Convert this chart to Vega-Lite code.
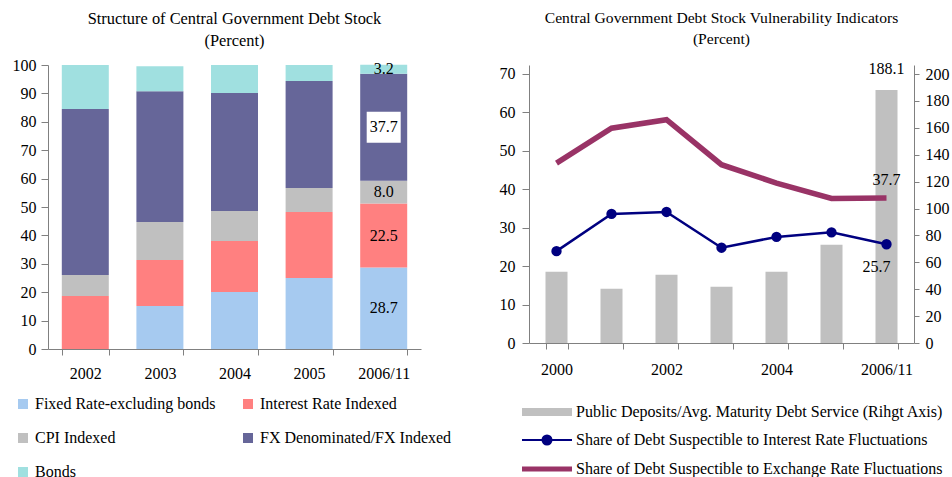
{
  "$schema": "https://vega.github.io/schema/vega-lite/v6.json",
  "padding": {"left": 12, "top": 10, "right": 2, "bottom": 0},
  "spacing": 47,
  "resolve": {
    "scale": {"color": "independent", "fill": "independent", "stroke": "independent"},
    "legend": {"color": "independent", "fill": "independent", "stroke": "independent"}
  },
  "config": {
    "font": "Liberation Serif",
    "view": {"stroke": null},
    "axis": {"labelFont": "Liberation Serif", "labelFontSize": 16, "labelColor": "#000", "domainColor": "#808080", "tickColor": "#808080", "grid": false, "labelOverlap": false},
    "title": {"font": "Liberation Serif", "fontWeight": "normal", "color": "#000", "fontSize": 16, "lineHeight": 22, "frame": "group", "anchor": "middle"},
    "legend": {"labelFont": "Liberation Serif", "labelFontSize": 16, "labelColor": "#000", "padding": 0, "labelLimit": 600},
    "text": {"font": "Liberation Serif", "fontSize": 16, "color": "#000"}
  },
  "datasets": {
    "dleft": [
      {"year": "2002", "series": "Interest Rate Indexed", "value": 18.7},
      {"year": "2002", "series": "CPI Indexed", "value": 7.4},
      {"year": "2002", "series": "FX Denominated/FX Indexed", "value": 58.4},
      {"year": "2002", "series": "Bonds", "value": 15.5},
      {"year": "2003", "series": "Fixed Rate-excluding bonds", "value": 15.1},
      {"year": "2003", "series": "Interest Rate Indexed", "value": 16.2},
      {"year": "2003", "series": "CPI Indexed", "value": 13.4},
      {"year": "2003", "series": "FX Denominated/FX Indexed", "value": 46.1},
      {"year": "2003", "series": "Bonds", "value": 8.8},
      {"year": "2004", "series": "Fixed Rate-excluding bonds", "value": 20.1},
      {"year": "2004", "series": "Interest Rate Indexed", "value": 17.9},
      {"year": "2004", "series": "CPI Indexed", "value": 10.6},
      {"year": "2004", "series": "FX Denominated/FX Indexed", "value": 41.5},
      {"year": "2004", "series": "Bonds", "value": 9.9},
      {"year": "2005", "series": "Fixed Rate-excluding bonds", "value": 25.0},
      {"year": "2005", "series": "Interest Rate Indexed", "value": 23.2},
      {"year": "2005", "series": "CPI Indexed", "value": 8.5},
      {"year": "2005", "series": "FX Denominated/FX Indexed", "value": 37.7},
      {"year": "2005", "series": "Bonds", "value": 5.6},
      {"year": "2006/11", "series": "Fixed Rate-excluding bonds", "value": 28.7},
      {"year": "2006/11", "series": "Interest Rate Indexed", "value": 22.5},
      {"year": "2006/11", "series": "CPI Indexed", "value": 8.0},
      {"year": "2006/11", "series": "FX Denominated/FX Indexed", "value": 37.7},
      {"year": "2006/11", "series": "Bonds", "value": 3.2}
    ],
    "drb": [
      {"year": "2000", "series": "Public Deposits/Avg. Maturity Debt Service (Rihgt Axis)", "dep": 53.0},
      {"year": "2001", "series": "Public Deposits/Avg. Maturity Debt Service (Rihgt Axis)", "dep": 40.4},
      {"year": "2002", "series": "Public Deposits/Avg. Maturity Debt Service (Rihgt Axis)", "dep": 50.8},
      {"year": "2003", "series": "Public Deposits/Avg. Maturity Debt Service (Rihgt Axis)", "dep": 41.9},
      {"year": "2004", "series": "Public Deposits/Avg. Maturity Debt Service (Rihgt Axis)", "dep": 53.0},
      {"year": "2005", "series": "Public Deposits/Avg. Maturity Debt Service (Rihgt Axis)", "dep": 73.1},
      {"year": "2006/11", "series": "Public Deposits/Avg. Maturity Debt Service (Rihgt Axis)", "dep": 188.1}
    ],
    "drl": [
      {"year": "2000", "series": "Share of Debt Suspectible to Interest Rate Fluctuations", "value": 23.9},
      {"year": "2001", "series": "Share of Debt Suspectible to Interest Rate Fluctuations", "value": 33.6},
      {"year": "2002", "series": "Share of Debt Suspectible to Interest Rate Fluctuations", "value": 34.1},
      {"year": "2003", "series": "Share of Debt Suspectible to Interest Rate Fluctuations", "value": 24.8},
      {"year": "2004", "series": "Share of Debt Suspectible to Interest Rate Fluctuations", "value": 27.6},
      {"year": "2005", "series": "Share of Debt Suspectible to Interest Rate Fluctuations", "value": 28.8},
      {"year": "2006/11", "series": "Share of Debt Suspectible to Interest Rate Fluctuations", "value": 25.7},
      {"year": "2000", "series": "Share of Debt Suspectible to Exchange Rate Fluctuations", "value": 46.8},
      {"year": "2001", "series": "Share of Debt Suspectible to Exchange Rate Fluctuations", "value": 55.9},
      {"year": "2002", "series": "Share of Debt Suspectible to Exchange Rate Fluctuations", "value": 58.1},
      {"year": "2003", "series": "Share of Debt Suspectible to Exchange Rate Fluctuations", "value": 46.4},
      {"year": "2004", "series": "Share of Debt Suspectible to Exchange Rate Fluctuations", "value": 41.6},
      {"year": "2005", "series": "Share of Debt Suspectible to Exchange Rate Fluctuations", "value": 37.6},
      {"year": "2006/11", "series": "Share of Debt Suspectible to Exchange Rate Fluctuations", "value": 37.7}
    ]
  },
  "hconcat": [
    {
      "title": {"text": ["Structure of Central Government Debt Stock", "(Percent)"], "fontSize": 16.4, "offset": 8},
      "width": 373,
      "height": 284,
      "data": {"name": "dleft"},
      "transform": [
        {"calculate": "indexof(['Fixed Rate-excluding bonds','Interest Rate Indexed','CPI Indexed','FX Denominated/FX Indexed','Bonds'], datum.series)", "as": "k"},
        {"stack": "value", "groupby": ["year"], "sort": [{"field": "k", "order": "ascending"}], "as": ["y0", "y1"]},
        {"calculate": "(datum.y0 + datum.y1) / 2", "as": "ymid"}
      ],
      "encoding": {
        "x": {"field": "year", "type": "nominal", "title": null,
              "scale": {"paddingInner": 0.37, "paddingOuter": 0.185},
              "axis": {"labelAngle": 0, "tickBand": "extent", "tickSize": 6, "labelPadding": 10}}
      },
      "layer": [
        {
          "mark": {"type": "bar"},
          "encoding": {
            "y": {"field": "y0", "type": "quantitative", "title": null, "scale": {"domain": [0, 100]},
                  "axis": {"values": [0, 10, 20, 30, 40, 50, 60, 70, 80, 90, 100], "tickSize": 7, "labelPadding": 5, "labelOverlap": false}},
            "y2": {"field": "y1"},
            "color": {"field": "series", "type": "nominal",
                      "scale": {"domain": ["Fixed Rate-excluding bonds", "CPI Indexed", "Bonds", "Interest Rate Indexed", "FX Denominated/FX Indexed"],
                                "range": ["#a6caf0", "#c0c0c0", "#a0e0e0", "#ff8080", "#666699"]},
                      "legend": {"orient": "none", "legendX": -33, "legendY": 331, "columns": 2, "title": null,
                                 "symbolType": "square", "symbolSize": 100, "symbolStrokeWidth": 0,
                                 "rowPadding": 18, "columnPadding": 24, "labelOffset": 4}}
          }
        },
        {
          "transform": [{"filter": "datum.year == '2006/11' && datum.series == 'FX Denominated/FX Indexed'"}],
          "mark": {"type": "point", "shape": "M-1,-0.91L1,-0.91L1,0.91L-1,0.91Z", "filled": true, "color": "#ffffff", "opacity": 1, "size": 1156, "strokeWidth": 0},
          "encoding": {"y": {"field": "ymid", "type": "quantitative", "title": null,
                             "axis": {"values": [0, 10, 20, 30, 40, 50, 60, 70, 80, 90, 100], "tickSize": 7, "labelPadding": 5, "labelOverlap": false}}}
        },
        {
          "transform": [{"filter": "datum.year == '2006/11'"}],
          "mark": {"type": "text", "fontSize": 16},
          "encoding": {
            "y": {"field": "ymid", "type": "quantitative", "title": null,
                  "axis": {"values": [0, 10, 20, 30, 40, 50, 60, 70, 80, 90, 100], "tickSize": 7, "labelPadding": 5, "labelOverlap": false}},
            "text": {"field": "value", "type": "quantitative", "format": ".1f"}
          }
        }
      ]
    },
    {
      "title": {"text": ["Central Government Debt Stock Vulnerability Indicators", "(Percent)"], "fontSize": 15.6, "lineHeight": 21, "offset": 13},
      "width": 385,
      "height": 278,
      "layer": [
        {
          "data": {"name": "drb"},
          "encoding": {
            "x": {"field": "year", "type": "nominal", "title": null,
                  "scale": {"paddingInner": 0.6, "paddingOuter": 0.3},
                  "axis": {"labelAngle": 0, "tickBand": "extent", "tickSize": 6, "labelPadding": 12,
                           "labelExpr": "indexof(['2001','2003','2005'], datum.label) >= 0 ? '' : datum.label"}},
            "y": {"field": "dep", "type": "quantitative", "title": null, "scale": {"domain": [0, 206.7], "nice": false},
                  "axis": {"orient": "right", "values": [0, 20, 40, 60, 80, 100, 120, 140, 160, 180, 200], "tickSize": 5, "labelPadding": 6, "labelOverlap": false}}
          },
          "layer": [
            {
              "mark": {"type": "bar"},
              "encoding": {
                "fill": {"field": "series", "type": "nominal",
                         "scale": {"domain": ["Public Deposits/Avg. Maturity Debt Service (Rihgt Axis)"], "range": ["#c0c0c0"]},
                         "legend": {"orient": "none", "legendX": 10, "legendY": 339, "title": null,
                                    "symbolType": "M-5,-0.8L5,-0.8L5,0.8L-5,0.8Z", "symbolSize": 100, "symbolStrokeWidth": 0,
                                    "labelOffset": 21}}
              }
            },
            {
              "transform": [{"filter": "datum.year == '2006/11'"}],
              "mark": {"type": "text", "dy": -21},
              "encoding": {"text": {"field": "dep", "type": "quantitative", "format": ".1f"}}
            }
          ]
        },
        {
          "data": {"name": "drl"},
          "encoding": {
            "x": {"field": "year", "type": "nominal", "title": null},
            "y": {"field": "value", "type": "quantitative", "title": null, "scale": {"domain": [0, 72.34], "nice": false},
                  "axis": {"orient": "left", "values": [0, 10, 20, 30, 40, 50, 60, 70], "tickSize": 7, "labelPadding": 7, "labelOverlap": false}}
          },
          "layer": [
            {
              "transform": [{"filter": "indexof(datum.series, 'Interest') >= 0"}],
              "mark": {"type": "line", "strokeWidth": 2.5, "point": {"filled": true, "size": 70, "fill": "#000080"}},
              "encoding": {"stroke": {"field": "series", "type": "nominal",
                                      "scale": {"domain": ["Share of Debt Suspectible to Interest Rate Fluctuations"], "range": ["#000080"]},
                                      "legend": {"orient": "none", "legendX": 10, "legendY": 367, "title": null,
                                                 "symbolType": "M-5,0L5,0M-0.9,0A0.9,0.9,0,1,0,0.9,0A0.9,0.9,0,1,0,-0.9,0Z",
                                                 "symbolSize": 100, "symbolStrokeWidth": 2, "symbolFillColor": "#000080",
                                                 "labelOffset": 21}}}
            },
            {
              "transform": [{"filter": "indexof(datum.series, 'Exchange') >= 0"}],
              "mark": {"type": "line", "strokeWidth": 5.5},
              "encoding": {"color": {"field": "series", "type": "nominal",
                                     "scale": {"domain": ["Share of Debt Suspectible to Exchange Rate Fluctuations"], "range": ["#993366"]},
                                     "legend": {"orient": "none", "legendX": 10, "legendY": 396, "title": null,
                                                "symbolType": "M-5,0L5,0", "symbolSize": 100, "symbolStrokeWidth": 5,
                                                "labelOffset": 21}}}
            },
            {
              "transform": [{"filter": "datum.year == '2006/11' && indexof(datum.series, 'Exchange') >= 0"}],
              "mark": {"type": "text", "dy": -18},
              "encoding": {"text": {"field": "value", "type": "quantitative", "format": ".1f"}}
            },
            {
              "transform": [{"filter": "datum.year == '2006/11' && indexof(datum.series, 'Interest') >= 0"}],
              "mark": {"type": "text", "dy": 23, "dx": -10},
              "encoding": {"text": {"field": "value", "type": "quantitative", "format": ".1f"}}
            }
          ]
        }
      ],
      "resolve": {"scale": {"y": "independent"}}
    }
  ]
}
